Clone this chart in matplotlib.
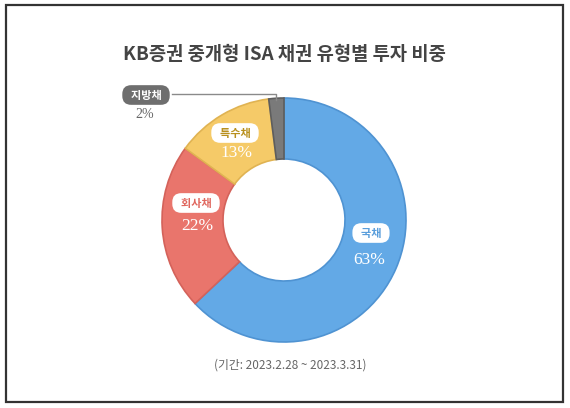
import matplotlib.pyplot as plt
from matplotlib.patches import Rectangle

plt.rcParams['font.family'] = ['Noto Sans CJK KR', 'DejaVu Sans']

# ========== 데이터 ==========
categories = ["국채", "회사채", "특수채", "지방채"]
shares = [63, 22, 13, 2]
pct_labels = ["63%", "22%", "13%", "2%"]
title = "KB증권 중개형 ISA 채권 유형별 투자 비중"
note = "(기간: 2023.2.28 ~ 2023.3.31)"

colors = ["#63A9E6", "#E9756C", "#F5CA68", "#7A7A7A"]
edges = ["#4F93D2", "#D4625A", "#E0B352", "#5E5E5E"]
label_colors = ["#5A9EDB", "#E0685F", "#B8901E", "#FFFFFF"]

W, H = 570, 408
def Y(y):
    return H - y  # 픽셀 좌표 -> 축 좌표

fig = plt.figure(figsize=(W / 100, H / 100), dpi=100)
ax = fig.add_axes([0, 0, 1, 1])

cx, cy, r = 284, 220, 122
wedges, _ = ax.pie(shares, startangle=90, counterclock=False,
                   center=(cx, Y(cy)), radius=r, colors=colors,
                   wedgeprops=dict(width=r * 0.5, linewidth=1.2))
for w, ec in zip(wedges, edges):
    w.set_edgecolor(ec)

# 라벨 위치 (픽셀)
label_pos = [(371, 233), (196, 203), (235, 133), (146, 95)]
pct_pos = [(369, 260), (197, 226), (236, 153), (145, 115)]

for i, cat in enumerate(categories):
    lx, ly = label_pos[i]
    box_fc = "#6E6E6E" if i == 3 else "white"
    ax.text(lx, Y(ly), "  " + cat + "  ", ha="center", va="center",
            fontsize=8, fontweight="bold", color=label_colors[i],
            bbox=dict(boxstyle="round,pad=0.3,rounding_size=0.8",
                      fc=box_fc, ec="none"))
    px, py = pct_pos[i]
    pc = "#666666" if i == 3 else "white"
    ax.text(px, Y(py), pct_labels[i], ha="center", va="center",
            fontsize=12.5 if i < 3 else 10, color=pc,
            family=["Liberation Serif", "DejaVu Serif"])

# 지방채 지시선
ax.plot([172, 276, 276], [Y(94), Y(94), Y(100)], color="#8A8A8A", lw=1)

ax.text(284, Y(55), title, ha="center", va="center", fontsize=13.5,
        fontweight="bold", color="#444444")
ax.text(290, Y(365), note, ha="center", va="center", fontsize=8.5,
        color="#666666")

# 테두리
ax.add_patch(Rectangle((6, Y(402)), 557, 397, fill=False,
                       ec="#333333", lw=1.6))

ax.set_xlim(0, W)
ax.set_ylim(0, H)
ax.set_aspect("equal")
ax.axis("off")

fig.savefig("out.png", dpi=100)
